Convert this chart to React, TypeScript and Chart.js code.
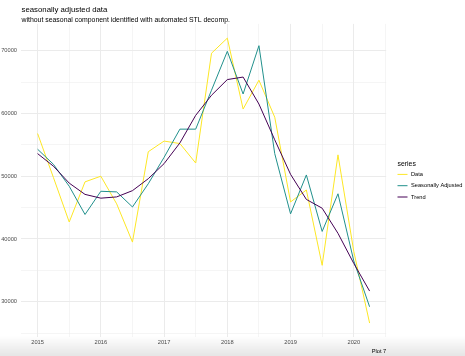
import { useEffect, useRef } from "react";
import { Chart, registerables } from "chart.js";

Chart.register(...registerables);

// ---- data ----
const timeIndex = [
  2015.0, 2015.25, 2015.5, 2015.75,
  2016.0, 2016.25, 2016.5, 2016.75,
  2017.0, 2017.25, 2017.5, 2017.75,
  2018.0, 2018.25, 2018.5, 2018.75,
  2019.0, 2019.25, 2019.5, 2019.75,
  2020.0, 2020.25,
];
const dataValues = [
  56800, 49800, 42700, 49100,
  50000, 45600, 39500, 53900,
  55600, 55200, 52100, 69600,
  72000, 60700, 65300, 59400,
  45900, 47800, 35800, 53400,
  38000, 26600,
];
const seasonallyAdjusted = [
  54300, 51900, 48400, 43900,
  47600, 47500, 45100, 48800,
  53000, 57500, 57500, 63700,
  69900, 63100, 70800, 53600,
  44000, 50200, 41200, 47200,
  36500, 29200,
];
const trendValues = [
  53600, 51600, 48900, 47100,
  46500, 46700, 47700, 49600,
  52000, 55300, 59700, 62900,
  65400, 65800, 61500, 55800,
  50300, 46300, 44900, 40900,
  36100, 31700,
];
const seriesNames = ["Data", "Seasonally Adjusted", "Trend"];
const seriesColors = ["#FDE725", "#21908C", "#440154"];
const xMajorTicks = [2015, 2016, 2017, 2018, 2019, 2020];
const xMinorTicks = [2015.5, 2016.5, 2017.5, 2018.5, 2019.5, 2020.5];
const yMajorTicks = [30000, 40000, 50000, 60000, 70000];
const yMinorTicks = [25000, 35000, 45000, 55000, 65000];
const titleText = "seasonally adjusted data";
const subtitleText = "without seasonal component identified with automated STL decomp.";
const legendTitle = "series";
const captionText = "Plot 7";

const FONT = "'Liberation Sans', Arial, Helvetica, sans-serif";
const W = 465;
const H = 356;

export default function App() {
  const ref = useRef<HTMLCanvasElement | null>(null);

  useEffect(() => {
    const canvas = ref.current;
    if (!canvas) return;

    const xs = timeIndex;
    const xMinD = Math.min(...xs);
    const xMaxD = Math.max(...xs);
    const xPad = (xMaxD - xMinD) * 0.05;
    const allY = [...dataValues, ...seasonallyAdjusted, ...trendValues];
    const yMinD = Math.min(...allY);
    const yMaxD = Math.max(...allY);
    const yPad = (yMaxD - yMinD) * 0.05;

    const seriesList = [dataValues, seasonallyAdjusted, trendValues];

    const xMajorSet = new Set(xMajorTicks);
    const yMajorSet = new Set(yMajorTicks);

    const decorPlugin = {
      id: "decor",
      afterDraw(chart: any) {
        const ctx = chart.ctx as CanvasRenderingContext2D;
        const area = chart.chartArea;
        ctx.save();
        // title + subtitle
        ctx.textAlign = "left";
        ctx.textBaseline = "alphabetic";
        ctx.fillStyle = "#000000";
        ctx.font = `7.8px ${FONT}`;
        ctx.fillText(titleText, area.left + 0.5, 12);
        ctx.font = `6.9px ${FONT}`;
        ctx.fillText(subtitleText, area.left + 0.5, 21.5);

        // legend
        const lx = 397.5;
        ctx.fillStyle = "#000000";
        ctx.font = `6.9px ${FONT}`;
        ctx.textBaseline = "middle";
        ctx.fillText(legendTitle, lx, 164);
        ctx.font = `5.7px ${FONT}`;
        seriesNames.forEach((name, i) => {
          const y = 174.4 + i * 11.3;
          ctx.strokeStyle = seriesColors[i];
          ctx.lineWidth = 1;
          ctx.beginPath();
          ctx.moveTo(lx, y);
          ctx.lineTo(lx + 10, y);
          ctx.stroke();
          ctx.fillStyle = "#000000";
          ctx.fillText(name, lx + 13.5, y);
        });

        // caption
        ctx.textAlign = "right";
        ctx.textBaseline = "alphabetic";
        ctx.fillStyle = "#000000";
        ctx.font = `5.7px ${FONT}`;
        ctx.fillText(captionText, area.right, 353);
        ctx.restore();
      },
    };

    const chart = new Chart(canvas, {
      type: "line",
      data: {
        datasets: seriesList.map((vals, i) => ({
          label: seriesNames[i],
          data: xs.map((x, j) => ({ x, y: vals[j] })),
          borderColor: seriesColors[i],
          backgroundColor: seriesColors[i],
          borderWidth: 1,
          pointRadius: 0,
          fill: false,
          tension: 0,
          order: 2 - i,
        })),
      },
      options: {
        animation: false,
        responsive: false,
        maintainAspectRatio: false,
        layout: { padding: { top: 23.9, right: 78.8, left: 0, bottom: 0 } },
        plugins: {
          legend: { display: false },
          title: { display: false },
          tooltip: { enabled: false },
        },
        scales: {
          x: {
            type: "linear",
            min: xMinD - xPad,
            max: xMaxD + xPad,
            afterBuildTicks: (scale: any) => {
              scale.ticks = [...xMajorTicks, ...xMinorTicks]
                .sort((a, b) => a - b)
                .map((v) => ({ value: v }));
            },
            afterFit: (scale: any) => {
              scale.height = 18.7;
            },
            border: { display: false },
            grid: {
              drawTicks: false,
              color: "#ebebeb",
              lineWidth: (c: any) => (xMajorSet.has(c.tick?.value) ? 1 : 0.5),
            },
            ticks: {
              autoSkip: false,
              maxRotation: 0,
              padding: 2,
              color: "#4d4d4d",
              font: { family: FONT, size: 5.7 },
              callback: (v: any) => (xMajorSet.has(Number(v)) ? String(v) : ""),
            },
          },
          y: {
            type: "linear",
            min: yMinD - yPad,
            max: yMaxD + yPad,
            afterBuildTicks: (scale: any) => {
              scale.ticks = [...yMajorTicks, ...yMinorTicks]
                .sort((a, b) => a - b)
                .map((v) => ({ value: v }));
            },
            afterFit: (scale: any) => {
              scale.width = 21;
            },
            border: { display: false },
            grid: {
              drawTicks: false,
              color: "#ebebeb",
              lineWidth: (c: any) => (yMajorSet.has(c.tick?.value) ? 1 : 0.5),
            },
            ticks: {
              autoSkip: false,
              padding: 4,
              color: "#4d4d4d",
              font: { family: FONT, size: 5.7 },
              callback: (v: any) => (yMajorSet.has(Number(v)) ? String(v) : ""),
            },
          },
        },
      },
      plugins: [decorPlugin],
    } as any);

    return () => chart.destroy();
  }, []);

  return (
    <div style={{ position: "fixed", left: 0, top: 0, width: W, height: H, background: "#ffffff" }}>
      <canvas ref={ref} width={W} height={H} style={{ display: "block", width: W, height: H }} />
      <div
        style={{
          position: "absolute",
          left: 0,
          top: 336,
          width: W,
          height: H - 336,
          background: "linear-gradient(to bottom, rgba(0,0,0,0), rgba(0,0,0,0.1))",
          pointerEvents: "none",
        }}
      />
    </div>
  );
}
